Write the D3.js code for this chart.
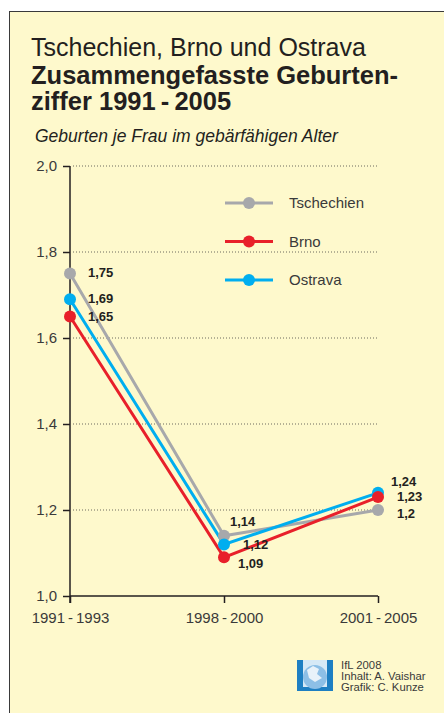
<!DOCTYPE html>
<html>
<head>
<meta charset="utf-8">
<script src="https://cdn.jsdelivr.net/npm/d3@7"></script>
<style>
  body { margin: 0; background: #fff; }
  text { font-family: "Liberation Sans", Arial, sans-serif; }
</style>
</head>
<body>
<div id="chart_area"></div>
<script>
var width = 444
var height = 713

// data
var periods = ["1991\u2009-\u20091993", "1998\u2009-\u20092000", "2001\u2009-\u20092005"]
var seriesNames = ["Tschechien", "Brno", "Ostrava"]
var seriesColors = ["#a7a8ab", "#e8202a", "#00aeef"]
var tschechien = [1.75, 1.14, 1.2]
var brno = [1.65, 1.09, 1.23]
var ostrava = [1.69, 1.12, 1.24]
var yTicks = [1.0, 1.2, 1.4, 1.6, 1.8, 2.0]
var labelTexts = [["1,75", "1,14", "1,2"], ["1,65", "1,09", "1,23"], ["1,69", "1,12", "1,24"]]

var series = [tschechien, brno, ostrava]
// label offsets in px [dx, dy] for each series/point
var labelOffsets = [
  [[18, -1], [6, -14], [19, 3]],
  [[18, 0], [14, 6], [19, -0.5]],
  [[18, -1], [19, 0], [13, -11]]
]

var svg = d3.select("#chart_area")
  .append("svg")
  .attr("width", width)
  .attr("height", height)

// frame
svg.append("rect")
  .attr("x", 9.5).attr("y", 11.5)
  .attr("width", 460).attr("height", 720)
  .attr("fill", "#fef9cc")
  .attr("stroke", "#3a3a3a")
  .attr("stroke-width", 1)

// titles
svg.append("text").attr("x", 31).attr("y", 56)
  .style("font-size", "25px").attr("fill", "#231f20")
  .text("Tschechien, Brno und Ostrava")
svg.append("text").attr("x", 31).attr("y", 84)
  .style("font-size", "25.5px").style("font-weight", "700").attr("fill", "#231f20")
  .text("Zusammengefasste Geburten-")
svg.append("text").attr("x", 31).attr("y", 110)
  .style("font-size", "25.5px").style("font-weight", "700").attr("fill", "#231f20")
  .text("ziffer 1991\u2009-\u20092005")
svg.append("text").attr("x", 35).attr("y", 142)
  .style("font-size", "17.5px").style("font-style", "italic").attr("fill", "#231f20")
  .text("Geburten je Frau im gebärfähigen Alter")

var x = d3.scalePoint().domain(periods).range([70, 378])
var y = d3.scaleLinear().domain([1.0, 2.0]).range([596, 166])

// gridlines
svg.append("g").selectAll("line")
  .data(yTicks.slice(1))
  .join("line")
  .attr("x1", 73).attr("x2", 378)
  .attr("y1", d => y(d)).attr("y2", d => y(d))
  .attr("stroke", "#6d6a5f")
  .attr("stroke-width", 1)
  .attr("stroke-dasharray", "1,2")

// y axis
var yAxis = svg.append("g")
  .attr("transform", "translate(70,0)")
  .call(d3.axisLeft(y).tickValues(yTicks).tickSize(7).tickPadding(6)
    .tickFormat(d => d3.format(".1f")(d).replace(".", ",")))
yAxis.select(".domain").attr("stroke", "#231f20").attr("stroke-width", 1.5)
  .attr("d", "M0,166V603")
yAxis.selectAll(".tick line").attr("stroke", "#231f20").attr("stroke-width", 1.5)
yAxis.selectAll(".tick text").style("font-size", "15px").attr("fill", "#3a3a3a")
  .style("font-family", "Liberation Sans, Arial, sans-serif")

// x axis
var xAxis = svg.append("g")
  .attr("transform", "translate(0,596)")
  .call(d3.axisBottom(x).tickSize(7).tickPadding(9))
xAxis.select(".domain").attr("stroke", "#231f20").attr("stroke-width", 1.5)
  .attr("d", "M70,0H378")
xAxis.selectAll(".tick line").attr("stroke", "#231f20").attr("stroke-width", 1.5)
xAxis.selectAll(".tick text").style("font-size", "15px").attr("fill", "#3a3a3a")
  .style("font-family", "Liberation Sans, Arial, sans-serif")

// lines and points
var line = d3.line().x((d, i) => x(periods[i])).y(d => y(d))
var order = [0, 2, 1]
order.forEach(function (s) {
  svg.append("path")
    .attr("d", line(series[s]))
    .attr("fill", "none")
    .attr("stroke", seriesColors[s])
    .attr("stroke-width", 3)
})
order.forEach(function (s) {
  svg.append("g").selectAll("circle")
    .data(series[s])
    .join("circle")
    .attr("cx", (d, i) => x(periods[i]))
    .attr("cy", d => y(d))
    .attr("r", 6)
    .attr("fill", seriesColors[s])
})

// value labels
series.forEach(function (vals, s) {
  vals.forEach(function (v, i) {
    svg.append("text")
      .attr("x", x(periods[i]) + labelOffsets[s][i][0])
      .attr("y", y(v) + labelOffsets[s][i][1])
      .attr("dy", "0.35em")
      .style("font-size", "13px").style("font-weight", "700")
      .attr("fill", "#231f20")
      .text(labelTexts[s][i])
  })
})

// legend
var legend = svg.append("g").selectAll("g")
  .data(seriesNames)
  .join("g")
  .attr("transform", (d, i) => "translate(225," + (203 + i * 38.5) + ")")
legend.append("line").attr("x1", 0).attr("x2", 48)
  .attr("stroke", (d, i) => seriesColors[i]).attr("stroke-width", 3)
legend.append("circle").attr("cx", 24).attr("r", 6)
  .attr("fill", (d, i) => seriesColors[i])
legend.append("text").attr("x", 64).attr("dy", "0.35em")
  .style("font-size", "15px").attr("fill", "#3a3a3a")
  .text(d => d)

// logo + credits
var logo = svg.append("g").attr("transform", "translate(297,660)")
logo.append("rect").attr("width", 36).attr("height", 31).attr("fill", "#1e7fc2")
logo.append("rect").attr("x", 6).attr("y", 0).attr("width", 24).attr("height", 27).attr("fill", "#d6e9f6")
logo.append("circle").attr("cx", 18).attr("cy", 17).attr("r", 12).attr("fill", "#8dbfe6")
logo.append("path").attr("d", "M10,10 L16,6 L22,9 L20,14 L25,18 L18,22 L12,18 Z").attr("fill", "#e8f2fa")

var credits = ["IfL 2008", "Inhalt: A. Vaishar", "Grafik: C. Kunze"]
svg.append("g").selectAll("text")
  .data(credits)
  .join("text")
  .attr("x", 341)
  .attr("y", (d, i) => 669 + i * 11)
  .style("font-size", "11.3px").attr("fill", "#3a3a3a")
  .text(d => d)
</script>
</body>
</html>
